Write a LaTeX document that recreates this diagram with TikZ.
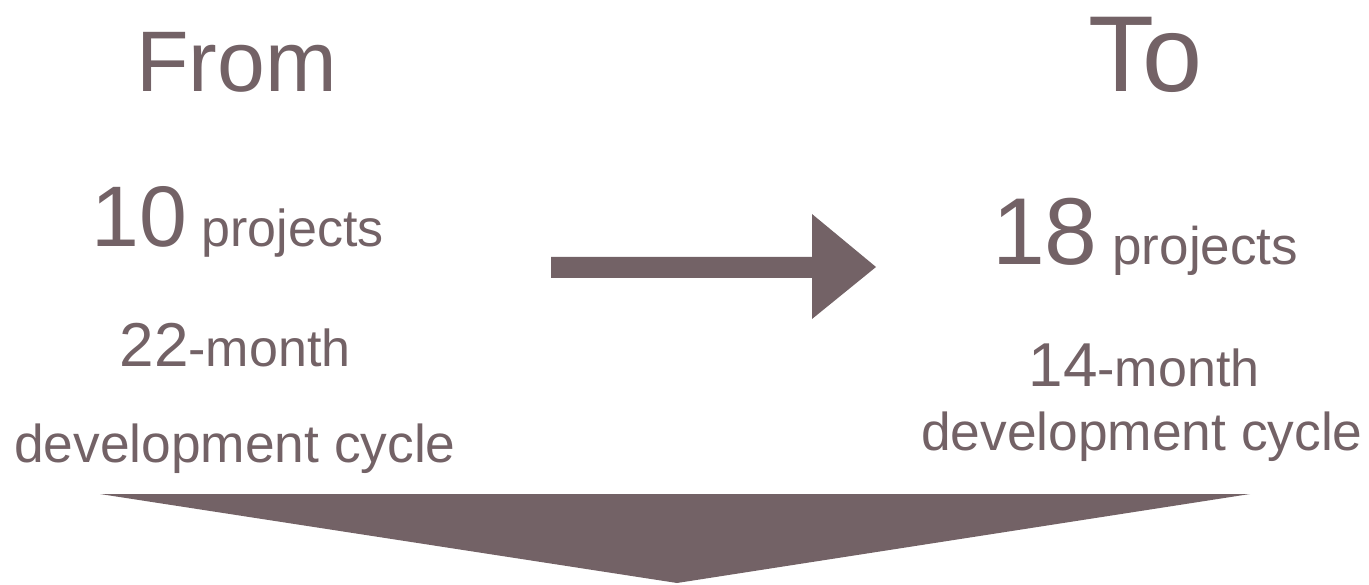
\documentclass[tikz,border=0pt]{standalone}
\usepackage{fontspec}
\setmainfont{Liberation Sans}
\definecolor{mauve}{RGB}{115,98,102}
\tikzset{
  lbl/.style={inner sep=0pt, anchor=base, text=mauve},
  shapefill/.style={fill=mauve, draw=none}
}
\newcommand{\fsz}[1]{\fontsize{#1}{#1}\selectfont}
\begin{document}
\begin{tikzpicture}[x=1pt,y=-1pt]
\useasboundingbox (0,0) rectangle (1369,585);
% headings
\node[lbl] (from) at (236.5,92) {\fsz{86}From};
\node[lbl] (to) at (1145.5,92) {\fsz{108}To};
% left column
\node[lbl] (lproj) at (237.5,247) {\fsz{86}10\fsz{52} projects};
\node[lbl] (lmonth) at (235,367) {\fsz{62}22\fsz{52}-month};
\node[lbl] (ldev) at (235,462) {\fsz{53.3}development cycle};
% right column
\node[lbl] (rproj) at (1145,265) {\fsz{95}18\fsz{53} projects};
\node[lbl] (rmonth) at (1144,387) {\fsz{62}14\fsz{52}-month};
\node[lbl] (rdev) at (1142,450) {\fsz{53.3}development cycle};
% right arrow
\fill[shapefill] (551,257) -- (812,257) -- (812,214) -- (876,267) -- (812,319) -- (812,278) -- (551,278) -- cycle;
% down arrow
\fill[shapefill] (100,494) -- (1250,494) -- (677,583) -- cycle;
\end{tikzpicture}
\end{document}
